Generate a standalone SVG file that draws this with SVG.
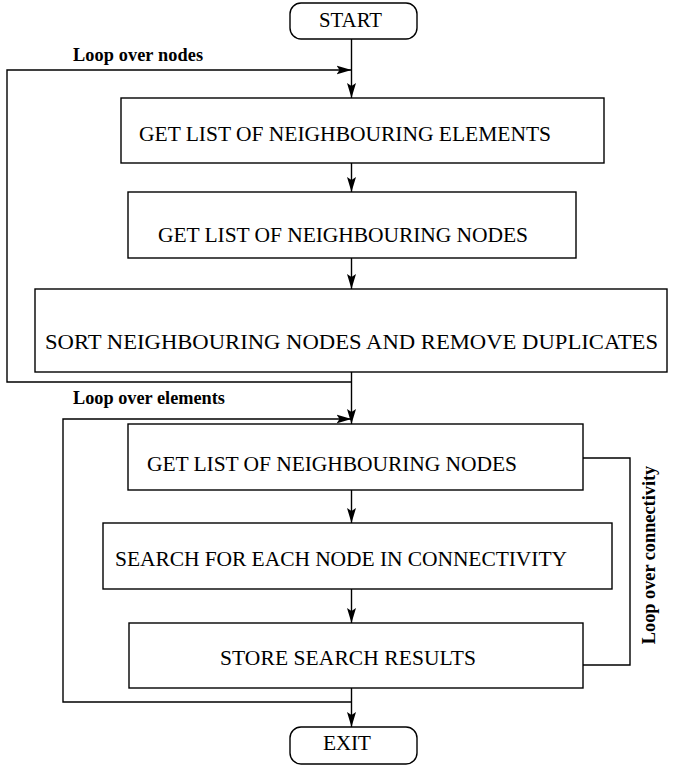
<svg xmlns="http://www.w3.org/2000/svg" width="678" height="766" viewBox="0 0 678 766">
<style>
.box{fill:#fff;stroke:#000;stroke-width:1.4}
.t{font-family:"Liberation Serif","Times New Roman",serif;font-size:21.5px;fill:#000}
.lb{font-family:"Liberation Serif","Times New Roman",serif;font-size:18.3px;font-weight:bold;fill:#000}
.c{fill:none;stroke:#000;stroke-width:1.4}
</style>
<defs>
<marker id="ah" markerUnits="userSpaceOnUse" markerWidth="16" markerHeight="10" refX="15" refY="5" orient="auto">
<path d="M0,0.5 L15,5 L0,9.5 L3,5 Z" fill="#000"/>
</marker>
</defs>
<g id="connectors">
<line class="c" x1="351.5" y1="39" x2="351.5" y2="98" marker-end="url(#ah)"/>
<line class="c" x1="351.5" y1="163" x2="351.5" y2="192" marker-end="url(#ah)"/>
<line class="c" x1="351.5" y1="258" x2="351.5" y2="289" marker-end="url(#ah)"/>
<line class="c" x1="351.5" y1="372" x2="351.5" y2="424" marker-end="url(#ah)"/>
<line class="c" x1="351.5" y1="490" x2="351.5" y2="523" marker-end="url(#ah)"/>
<line class="c" x1="351.5" y1="589" x2="351.5" y2="623" marker-end="url(#ah)"/>
<line class="c" x1="351.5" y1="688" x2="351.5" y2="727" marker-end="url(#ah)"/>
<path class="c" d="M351.5,382 H7 V70 H351.5" marker-end="url(#ah)"/>
<path class="c" d="M351.5,702 H63 V419 H351.5" marker-end="url(#ah)"/>
<path class="c" d="M583,458 H630 V665 H583"/>
<text class="lb" x="73" y="61" textLength="130" lengthAdjust="spacing">Loop over nodes</text>
<text class="lb" x="73" y="404">Loop over elements</text>
<text class="lb" text-anchor="middle" transform="translate(655,555) rotate(-90)">Loop over connectivity</text>
</g>
<g id="start">
<rect class="box" x="290" y="3" width="127" height="36" rx="11"/>
<text class="t" x="319" y="27" textLength="63" lengthAdjust="spacingAndGlyphs">START</text>
</g>
<g id="n1">
<rect class="box" x="121" y="98" width="483" height="65"/>
<text class="t" x="139" y="141" textLength="412" lengthAdjust="spacing">GET LIST OF NEIGHBOURING ELEMENTS</text>
</g>
<g id="n2">
<rect class="box" x="128" y="192" width="448" height="66"/>
<text class="t" x="158" y="242" textLength="370" lengthAdjust="spacing">GET LIST OF NEIGHBOURING NODES</text>
</g>
<g id="n3">
<rect class="box" x="35" y="289" width="632" height="83"/>
<text class="t" x="45" y="349" textLength="613" lengthAdjust="spacingAndGlyphs">SORT NEIGHBOURING NODES AND REMOVE DUPLICATES</text>
</g>
<g id="n4">
<rect class="box" x="128" y="424" width="455" height="66"/>
<text class="t" x="147" y="471" textLength="370" lengthAdjust="spacing">GET LIST OF NEIGHBOURING NODES</text>
</g>
<g id="n5">
<rect class="box" x="103" y="523" width="509" height="66"/>
<text class="t" x="115" y="566" textLength="452" lengthAdjust="spacing">SEARCH FOR EACH NODE IN CONNECTIVITY</text>
</g>
<g id="n6">
<rect class="box" x="129" y="623" width="454" height="65"/>
<text class="t" x="220" y="665" textLength="256" lengthAdjust="spacing">STORE SEARCH RESULTS</text>
</g>
<g id="exit">
<rect class="box" x="290" y="727" width="127" height="37" rx="11"/>
<text class="t" x="323" y="750" textLength="48" lengthAdjust="spacing">EXIT</text>
</g>
</svg>
